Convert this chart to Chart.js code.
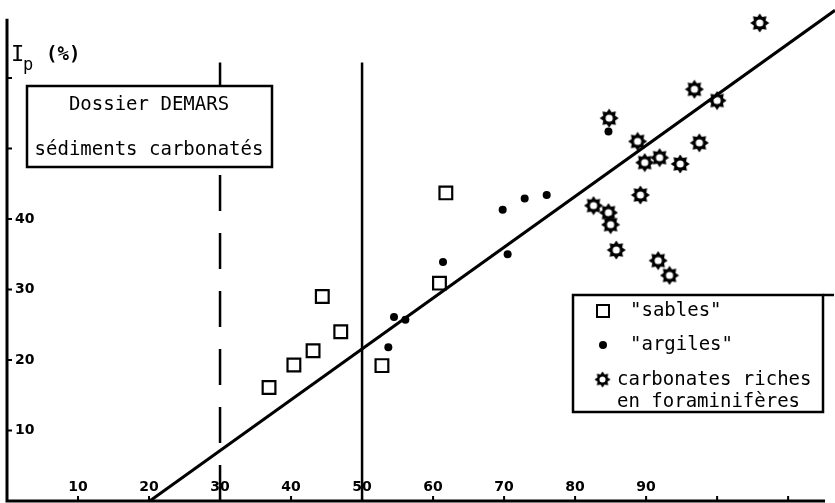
<!DOCTYPE html>
<html>
<head>
<meta charset="utf-8">
<script src="https://cdn.jsdelivr.net/npm/chart.js@4.4.0/dist/chart.umd.min.js"></script>
<style>
  html, body { margin: 0; padding: 0; background: #fff; }
  #wrap { width: 835px; height: 503px; position: relative; }
</style>
</head>
<body>
<div id="wrap"><canvas id="chart"></canvas></div>
<script>
// --- Data : W_L (%) vs I_p (%) ---
const sablesWL = [36.9, 40.4, 43.1, 44.4, 47.0, 52.8, 60.9, 61.8];
const sablesIp = [16.1, 19.3, 21.3, 29.0, 24.0, 19.2, 30.9, 43.7];

const argilesWL = [53.7, 54.5, 56.1, 61.4, 69.8, 70.5, 72.9, 76.0, 84.7];
const argilesIp = [21.8, 26.1, 25.7, 33.9, 41.3, 35.0, 42.9, 43.4, 52.4];

const carbWL = [106.0, 96.8, 100.0, 84.8, 88.8, 97.5, 89.8, 91.9, 94.8, 89.2, 82.6, 84.7, 85.0, 85.8, 91.7, 93.3];
const carbIp = [67.8, 58.4, 56.8, 54.3, 51.0, 50.8, 48.0, 48.7, 47.8, 43.4, 41.9, 40.9, 39.2, 35.6, 34.1, 32.0];

// regression line end points
const fitWL = [20.1, 116.6];
const fitIp = [0, 69.6];

// --- Axes ---
const xTicks = [10, 20, 30, 40, 50, 60, 70, 80, 90, 100, 110];
const xTickLabels = ['10', '20', '30', '40', '50', '60', '70', '80', '90', '', ''];
const yTicks = [10, 20, 30, 40, 50, 60];
const yTickLabels = ['10', '20', '30', '40', '', ''];
const xMax = 116.6;
const yMax = 71.06;
const xAxisEnd = 115.2;
const yAxisEnd = 68.4;

// limit lines (W_L = 30 dashed, W_L = 50 solid)
const dashedWL = 30;
const solidWL = 50;
const limitTop = 62.2;

const toPts = (xs, ys) => xs.map((v, i) => ({ x: v, y: ys[i] }));
const MONO = '"DejaVu Sans Mono", "Liberation Mono", monospace';

// --- Star marker (carbonates) ---
function makeStar() {
  const c = document.createElement('canvas');
  c.width = 20; c.height = 20;
  const g = c.getContext('2d');
  g.fillStyle = '#000';
  g.beginPath();
  for (let i = 0; i < 16; i++) {
    const r = i % 2 === 0 ? 9.5 : 6.4;
    const a = i * Math.PI / 8 - Math.PI / 2;
    const px = 10 + r * Math.cos(a), py = 10 + r * Math.sin(a);
    if (i === 0) g.moveTo(px, py); else g.lineTo(px, py);
  }
  g.closePath();
  g.fill();
  g.fillStyle = '#fff';
  g.beginPath();
  g.arc(10, 10, 3.6, 0, Math.PI * 2);
  g.fill();
  return c;
}
const starImg = makeStar();

// --- Paper plugin: axes, limits, boxes ---
const paperPlugin = {
  id: 'paper',
  beforeDatasetsDraw(chart) {
    const { ctx, scales: { x, y } } = chart;
    const x0 = x.getPixelForValue(0);
    const y0 = y.getPixelForValue(0);
    ctx.save();
    ctx.strokeStyle = '#000';
    ctx.fillStyle = '#000';

    // axes
    ctx.lineWidth = 3;
    ctx.beginPath();
    ctx.moveTo(x0, y.getPixelForValue(yAxisEnd));
    ctx.lineTo(x0, y0);
    ctx.lineTo(x.getPixelForValue(xAxisEnd), y0);
    ctx.stroke();

    // ticks
    ctx.lineWidth = 2;
    ctx.beginPath();
    xTicks.forEach((v) => {
      const px = x.getPixelForValue(v);
      ctx.moveTo(px, y0);
      ctx.lineTo(px, y0 - 5);
    });
    yTicks.forEach((v) => {
      const py = y.getPixelForValue(v);
      ctx.moveTo(x0, py);
      ctx.lineTo(x0 + 5, py);
    });
    ctx.stroke();

    // tick labels
    ctx.font = 'bold 14px "DejaVu Sans", sans-serif';
    ctx.textBaseline = 'middle';
    ctx.textAlign = 'center';
    xTicks.forEach((v, i) => {
      if (xTickLabels[i]) ctx.fillText(xTickLabels[i], x.getPixelForValue(v), y0 - 14);
    });
    ctx.textAlign = 'left';
    yTicks.forEach((v, i) => {
      if (yTickLabels[i]) ctx.fillText(yTickLabels[i], x0 + 8, y.getPixelForValue(v));
    });

    // limit lines
    ctx.lineWidth = 2.5;
    ctx.beginPath();
    ctx.moveTo(x.getPixelForValue(solidWL), y0);
    ctx.lineTo(x.getPixelForValue(solidWL), y.getPixelForValue(limitTop));
    ctx.stroke();
    ctx.setLineDash([36, 22]);
    ctx.beginPath();
    ctx.moveTo(x.getPixelForValue(dashedWL), y0);
    ctx.lineTo(x.getPixelForValue(dashedWL), y.getPixelForValue(limitTop));
    ctx.stroke();
    ctx.restore();
  },

  afterDatasetsDraw(chart) {
    const { ctx } = chart;
    ctx.save();
    ctx.strokeStyle = '#000';
    ctx.fillStyle = '#000';
    ctx.textBaseline = 'middle';

    // axis titles
    ctx.textAlign = 'left';
    ctx.font = '22px ' + MONO;
    ctx.fillText('I', 11, 55);
    ctx.font = '17px ' + MONO;
    ctx.fillText('p', 23, 66);
    ctx.font = 'bold 19px ' + MONO;
    ctx.fillText('(%)', 46, 55);

    ctx.font = '20px ' + MONO;
    ctx.fillText('W', 716, 392);
    ctx.font = '17px ' + MONO;
    ctx.fillText('L', 734, 404);
    ctx.font = '19px ' + MONO;
    ctx.fillText('(%)', 756, 393);

    // title box
    ctx.lineWidth = 2.5;
    ctx.fillStyle = '#fff';
    ctx.fillRect(27, 86, 245, 81);
    ctx.strokeRect(27, 86, 245, 81);
    ctx.fillStyle = '#000';
    ctx.textAlign = 'center';
    ctx.font = '19px ' + MONO;
    ctx.fillText('Dossier DEMARS', 149, 105);
    ctx.fillText('sédiments carbonatés', 149, 150);

    // legend box
    ctx.fillStyle = '#fff';
    ctx.fillRect(573, 295, 250, 117);
    ctx.strokeRect(573, 295, 250, 117);
    ctx.beginPath();
    ctx.moveTo(823, 295);
    ctx.lineTo(834, 295);
    ctx.stroke();

    ctx.fillStyle = '#000';
    ctx.textAlign = 'left';
    ctx.lineWidth = 2;
    ctx.strokeRect(597, 305, 12, 12);
    ctx.fillText('"sables"', 630, 311);
    ctx.beginPath();
    ctx.arc(603, 345, 4, 0, Math.PI * 2);
    ctx.fill();
    ctx.fillText('"argiles"', 630, 345);
    ctx.drawImage(starImg, 594, 371, 17, 17);
    ctx.fillText('carbonates riches', 617, 380);
    ctx.fillText('en foraminifères', 617, 402);
    ctx.restore();
  }
};

// --- Chart ---
new Chart(document.getElementById('chart'), {
  type: 'scatter',
  data: {
    datasets: [
      {
        label: 'droite',
        type: 'line',
        data: toPts(fitWL, fitIp),
        borderColor: '#000',
        borderWidth: 3,
        pointRadius: 0,
        fill: false
      },
      {
        label: '"sables"',
        data: toPts(sablesWL, sablesIp),
        pointStyle: 'rect',
        pointRadius: 9,
        borderColor: '#000',
        backgroundColor: '#fff',
        borderWidth: 2.2
      },
      {
        label: '"argiles"',
        data: toPts(argilesWL, argilesIp),
        pointStyle: 'circle',
        pointRadius: 4,
        backgroundColor: '#000',
        borderWidth: 0
      },
      {
        label: 'carbonates riches en foraminifères',
        data: toPts(carbWL, carbIp),
        pointStyle: starImg
      }
    ]
  },
  options: {
    responsive: true,
    maintainAspectRatio: false,
    animation: false,
    events: [],
    layout: { autoPadding: false, padding: { left: 7, right: 0, top: 0, bottom: 2 } },
    plugins: { legend: { display: false }, tooltip: { enabled: false } },
    scales: {
      x: { type: 'linear', min: 0, max: xMax, display: false },
      y: { type: 'linear', min: 0, max: yMax, display: false }
    }
  },
  plugins: [paperPlugin]
});
</script>
</body>
</html>
